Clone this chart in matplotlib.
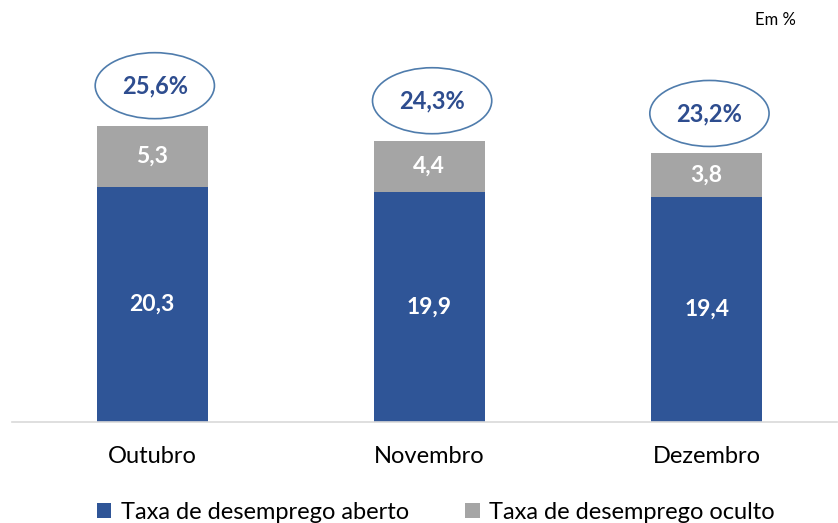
import numpy as np
import matplotlib
matplotlib.use("Agg")
import matplotlib.pyplot as plt
from matplotlib.patches import Ellipse

plt.rcParams['font.family'] = ['Lato', 'DejaVu Sans']

meses = ["Outubro", "Novembro", "Dezembro"]
aberto = [20.3, 19.9, 19.4]
oculto = [5.3, 4.4, 3.8]
total = [25.6, 24.3, 23.2]

azul = "#2f5597"
cinza = "#a5a5a5"

fig = plt.figure(figsize=(8.38, 5.23), dpi=100)
ax = fig.add_axes([12 / 838, 101 / 523, 825 / 838, 422 / 523])

x = np.arange(len(meses))
w = 0.4
ax.bar(x, aberto, w, color=azul, label="Taxa de desemprego aberto")
ax.bar(x, oculto, w, bottom=aberto, color=cinza, label="Taxa de desemprego oculto")

for i in range(len(meses)):
    ax.text(x[i], aberto[i] / 2, f"{aberto[i]:.1f}".replace(".", ","),
            ha="center", va="center", color="white", fontsize=16.5, fontweight="bold")
    ax.text(x[i], aberto[i] + oculto[i] / 2, f"{oculto[i]:.1f}".replace(".", ","),
            ha="center", va="center", color="white", fontsize=16.5, fontweight="bold")
    cy = total[i] + 3.45
    ax.add_patch(Ellipse((x[i] + 0.01, cy), 0.43, 5.7, facecolor="white",
                         edgecolor="#4f7cac", linewidth=1.2))
    ax.text(x[i] + 0.01, cy, f"{total[i]:.1f}%".replace(".", ","),
            ha="center", va="center", color="#2e4d8f", fontsize=17, fontweight="bold")

ax.set_xlim(-0.505, 2.47)
ax.set_ylim(0, 36.45)
for s in ["top", "right", "left"]:
    ax.spines[s].set_visible(False)
ax.spines["bottom"].set_color("#d9d9d9")
ax.spines["bottom"].set_linewidth(1.2)
ax.set_yticks([])
ax.set_xticks(x)
ax.set_xticklabels(meses, fontsize=17)
ax.tick_params(axis="x", length=0, pad=17)

fig.text(775 / 838, 1 - 20 / 523, "Em %", ha="center", va="center", fontsize=12)

fig.legend(loc="center", bbox_to_anchor=(0.52, 0.02), ncol=2, frameon=False,
           fontsize=17, handlelength=0.6, handleheight=0.6, handletextpad=0.4,
           columnspacing=2.4, borderpad=0.1)

fig.savefig("out.png", dpi=100)
